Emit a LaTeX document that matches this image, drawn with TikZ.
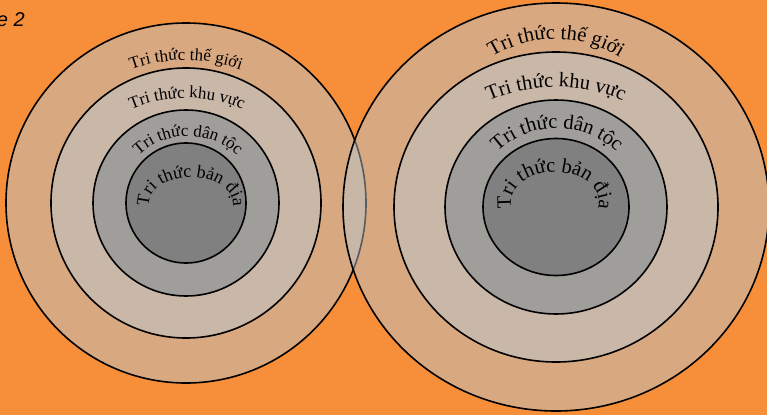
\documentclass[tikz,border=0pt]{standalone}
\usepackage{fontspec}
\setmainfont{Liberation Serif}
\newfontfamily\tagfont{Liberation Sans}
\usetikzlibrary{decorations.text}

\definecolor{slidebg}{RGB}{246,142,58}
\definecolor{tint}{RGB}{184,198,209}
\definecolor{ringkv}{RGB}{201,183,167}
\definecolor{ringdt}{RGB}{160,158,155}
\definecolor{ringbd}{RGB}{128,128,128}

\tikzset{
  ring/.style={draw=black, line width=1.6pt},
  arctext/.style={decorate, decoration={text along path, text align=center, text={#1}}},
}
\newcommand\smallarc{\fontsize{17}{17}\selectfont}
\newcommand\bigarc{\fontsize{20.5}{20.5}\selectfont}

\begin{document}
\begin{tikzpicture}[x=1pt, y=-1pt, line join=round]

  %% ==== background ====
  \fill[slidebg] (0,0) rectangle (767,415);
  \node[anchor=base east, inner sep=0pt, font=\tagfont\itshape\fontsize{20}{24}\selectfont] (slidetag) at (25,26) {e 2};

  %% ==== outer rings (see-through, they overlap in the middle) ====
  \filldraw[ring, fill=tint, fill opacity=0.47] (186,203) circle[radius=180];
  \filldraw[ring, fill=tint, fill opacity=0.47] (556,207) ellipse[x radius=213, y radius=204];

  %% ==== left set ====
  \filldraw[ring, fill=ringkv] (186,203) circle[radius=135];
  \filldraw[ring, fill=ringdt] (186,203) circle[radius=93];
  \filldraw[ring, fill=ringbd] (186,203) circle[radius=60];

  %% ==== right set ====
  \filldraw[ring, fill=ringkv] (556,207) ellipse[x radius=162, y radius=155];
  \filldraw[ring, fill=ringdt] (556,207) ellipse[x radius=111, y radius=107];
  \filldraw[ring, fill=ringbd] (556,207) ellipse[x radius=73, y radius=68.5];

  %% ==== labels along arcs (left) ====
  \path[arctext={|\smallarc|Tri thức thế giới}] ([shift={(215:160)}]186,220) arc[start angle=215, end angle=325, radius=160];
  \path[arctext={|\smallarc|Tri thức khu vực}] ([shift={(210:145)}]187,243) arc[start angle=210, end angle=330, radius=145];
  \path[arctext={|\smallarc|Tri thức dân tộc}] ([shift={(185:72)}]188,208) arc[start angle=185, end angle=355, radius=72];
  \path[arctext={|\fontsize{18}{18}\selectfont|Tri thức bản địa}] ([shift={(165:42 and 27)}]191,204) arc[start angle=165, end angle=375, x radius=42, y radius=27];

  %% ==== labels along arcs (right) ====
  \path[arctext={|\bigarc|Tri thức thế giới}] ([shift={(195:122)}]556,161) arc[start angle=195, end angle=345, radius=122];
  \path[arctext={|\bigarc|Tri thức khu vực}] ([shift={(215:170)}]556,257) arc[start angle=215, end angle=325, radius=170];
  \path[arctext={|\bigarc|Tri thức dân tộc}] ([shift={(190:86)}]557,214) arc[start angle=190, end angle=350, radius=86];
  \path[arctext={|\bigarc|Tri thức bản địa}] ([shift={(165:44 and 30)}]555,202) arc[start angle=165, end angle=375, x radius=44, y radius=30];

  % fix the canvas to the slide size
  \pgfresetboundingbox
  \path[use as bounding box] (0,0) rectangle (767,415);
\end{tikzpicture}
\end{document}
